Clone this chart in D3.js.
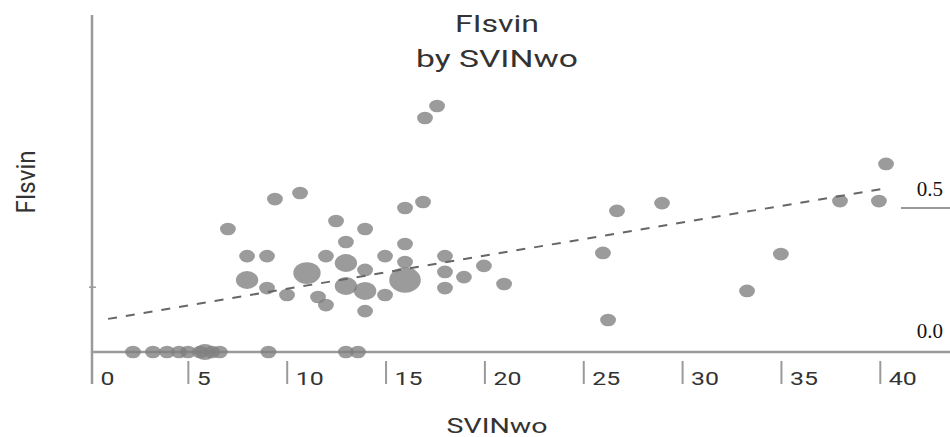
<!DOCTYPE html>
<html>
<head>
<meta charset="utf-8">
<script src="https://cdn.jsdelivr.net/npm/d3@7"></script>
<style>
  html, body { margin: 0; padding: 0; background: #fff; }
  svg { display: block; }
</style>
</head>
<body>
<svg id="chart" width="950" height="437"></svg>
<script>
// ---- data ----
const titleLines = ["FIsvin", "by SVINwo"];
const xLabel = "SVINwo";
const yLabel = "FIsvin";
const xTicks = [0, 5, 10, 15, 20, 25, 30, 35, 40];
const rightTicks = [0.0, 0.5];
const leftTicks = [0.225];

const ptX = [7.0, 9.38, 10.65, 7.97, 8.98, 7.97, 8.98, 9.99, 11.0, 12.47,
             13.94, 12.97, 11.96, 12.97, 13.94, 12.97, 13.94, 11.56, 11.96, 13.94,
             15.96, 16.87, 15.96, 14.95, 15.96, 15.96, 17.98, 17.98, 17.98, 18.94,
             19.95, 20.97, 14.95, 16.97, 17.58, 25.97, 26.68, 26.23, 28.96, 33.26,
             34.97, 37.96, 39.93, 40.29,
             2.20, 3.21, 3.92, 4.53, 4.98, 5.59, 5.84, 6.20, 6.59, 9.05, 12.97, 13.58];
const ptY = [0.427, 0.531, 0.552, 0.333, 0.333, 0.25, 0.222, 0.198, 0.274, 0.455,
             0.427, 0.382, 0.333, 0.309, 0.285, 0.229, 0.212, 0.191, 0.163, 0.142,
             0.50, 0.521, 0.375, 0.333, 0.3125, 0.25, 0.333, 0.278, 0.222, 0.26,
             0.299, 0.236, 0.198, 0.8125, 0.854, 0.344, 0.49, 0.111, 0.517, 0.212,
             0.34, 0.524, 0.524, 0.653,
             0, 0, 0, 0, 0, 0, 0, 0, 0, 0, 0, 0];
const ptSize = [1, 1, 1, 1, 1, 2, 1, 1, 3, 1,
                1, 1, 1, 2, 1, 2, 2, 1, 1, 1,
                1, 1, 1, 1, 1, 4, 1, 1, 1, 1,
                1, 1, 1, 1, 1, 1, 1, 1, 1, 1,
                1, 1, 1, 1,
                1, 1, 1, 1, 1, 1, 1.6, 1, 1, 1, 1, 1];
const trendX = [0.94, 40.08];
const trendY = [0.115, 0.566];

// ---- layout ----
const svg = d3.select("#chart");
const x = d3.scaleLinear().domain([0, 40]).range([89.5, 880.3]);
const y = d3.scaleLinear().domain([0, 0.5]).range([352, 208]);
const r = d3.scaleSqrt().domain([0, 1]).range([0, 7.9]);
const axisX = x(0) + 2.5;
const gray = "#9a9a9a";
const textCol = "#333";

// title
svg.append("text").attr("x", 497).attr("y", 32)
  .attr("text-anchor", "middle").attr("font-family", "Roboto, sans-serif")
  .attr("font-size", 24).attr("fill", textCol)
  .attr("textLength", 84).attr("lengthAdjust", "spacingAndGlyphs")
  .text(titleLines[0]);
svg.append("text").attr("x", 497).attr("y", 67)
  .attr("text-anchor", "middle").attr("font-family", "Roboto, sans-serif")
  .attr("font-size", 24).attr("fill", textCol)
  .attr("textLength", 162).attr("lengthAdjust", "spacingAndGlyphs")
  .text(titleLines[1]);

// y axis line
svg.append("line").attr("x1", axisX).attr("x2", axisX)
  .attr("y1", 15).attr("y2", 384)
  .attr("stroke", gray).attr("stroke-width", 2.5);
// baseline
svg.append("line").attr("x1", axisX).attr("x2", 950)
  .attr("y1", y(0)).attr("y2", y(0))
  .attr("stroke", gray).attr("stroke-width", 2.5);
// left ticks
svg.selectAll(".ltick").data(leftTicks).enter().append("line")
  .attr("x1", axisX - 3).attr("x2", axisX + 4)
  .attr("y1", d => y(d)).attr("y2", d => y(d))
  .attr("stroke", gray).attr("stroke-width", 1.5);

// x ticks
const xt = svg.selectAll(".xtick").data(xTicks).enter().append("g");
xt.filter(d => d !== 0).append("line")
  .attr("x1", d => x(d)).attr("x2", d => x(d))
  .attr("y1", 361).attr("y2", 384)
  .attr("stroke", gray).attr("stroke-width", 2);
xt.append("text")
  .attr("x", d => (d === 0 ? axisX : x(d)) + 8.5).attr("y", 385)
  .attr("font-family", "Roboto, sans-serif").attr("font-size", 19)
  .attr("fill", textCol)
  .attr("textLength", d => String(d).length * 14)
  .attr("lengthAdjust", "spacingAndGlyphs")
  .text(d => d);

// axis labels
svg.append("text").attr("x", 497).attr("y", 433)
  .attr("text-anchor", "middle").attr("font-family", "Roboto, sans-serif")
  .attr("font-size", 21).attr("fill", textCol)
  .attr("textLength", 101).attr("lengthAdjust", "spacingAndGlyphs")
  .text(xLabel);
svg.append("text")
  .attr("transform", "translate(35,182) rotate(-90)")
  .attr("text-anchor", "middle").attr("font-family", "Roboto, sans-serif")
  .attr("font-size", 25).attr("fill", textCol)
  .attr("textLength", 63).attr("lengthAdjust", "spacingAndGlyphs")
  .text(yLabel);

// right-side reference labels
svg.selectAll(".rlab").data(rightTicks).enter().append("text")
  .attr("x", 943).attr("y", d => y(d) - (d === 0 ? 14 : 12))
  .attr("text-anchor", "end")
  .attr("font-family", "'Liberation Serif', 'Times New Roman', serif")
  .attr("font-size", 21).attr("fill", "#111")
  .text(d => d.toFixed(1));
svg.selectAll(".rline").data(rightTicks.filter(d => d > 0)).enter().append("line")
  .attr("x1", 901).attr("x2", 950)
  .attr("y1", d => y(d)).attr("y2", d => y(d))
  .attr("stroke", "#777").attr("stroke-width", 1.5);

// points
const pts = ptX.map((v, i) => ({ x: v, y: ptY[i], s: ptSize[i] }));
svg.append("g").selectAll("ellipse").data(pts).enter().append("ellipse")
  .attr("cx", d => x(d.x)).attr("cy", d => y(d.y))
  .attr("rx", d => r(d.s)).attr("ry", d => r(d.s) * 0.8)
  .attr("fill", "#7f7f7f").attr("fill-opacity", 0.78);

// trend line
const line = d3.line().x(d => x(d[0])).y(d => y(d[1]));
svg.append("path")
  .datum(trendX.map((v, i) => [v, trendY[i]]))
  .attr("d", line)
  .attr("fill", "none").attr("stroke", "#666")
  .attr("stroke-width", 2).attr("stroke-dasharray", "9,9");
</script>
</body>
</html>
